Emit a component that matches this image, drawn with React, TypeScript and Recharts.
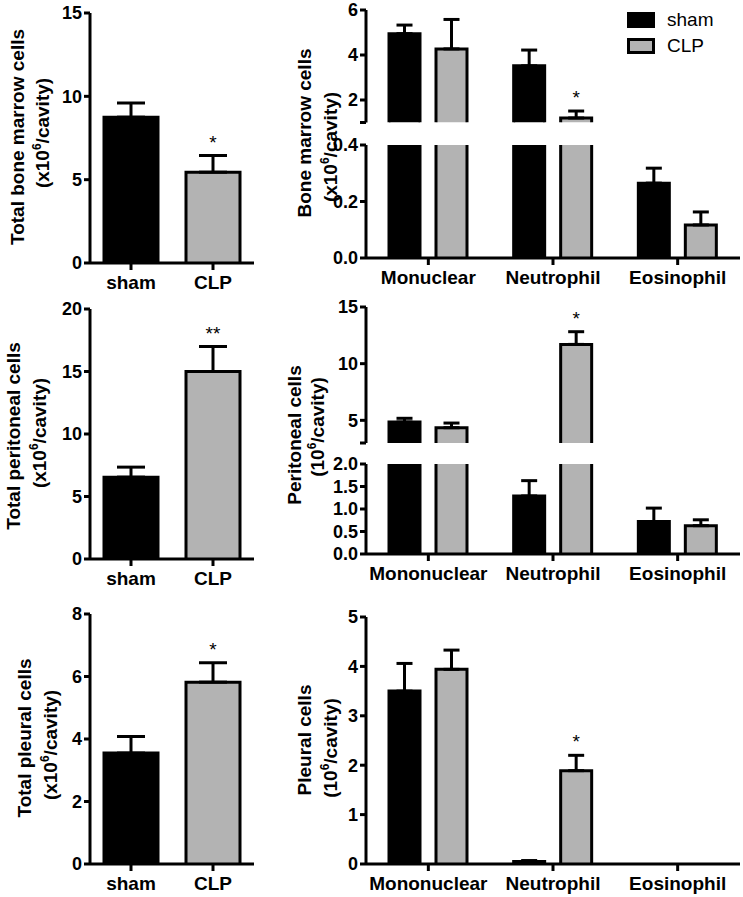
import React from 'react';
import { BarChart, Bar, XAxis, YAxis, ErrorBar, Cell, Legend } from 'recharts';

const FONT = 'Arial, "Liberation Sans", Helvetica, sans-serif';
const BLACK = '#000000';
const GREY = '#b3b3b3';

// groups
const groups = ['sham', 'CLP'];
const groupColors = [BLACK, GREY];

// cell types (the bone marrow panel spells it "Monuclear")
const cellTypesBM = ['Monuclear', 'Neutrophil', 'Eosinophil'];
const cellTypes = ['Mononuclear', 'Neutrophil', 'Eosinophil'];

// total cells, x10^6/cavity
const totalBM = [8.75, 5.45];
const totalBMErr = [0.85, 1.0];
const totalBMSig = ['', '*'];

const totalPer = [6.55, 15.0];
const totalPerErr = [0.8, 2.0];
const totalPerSig = ['', '**'];

const totalPle = [3.55, 5.82];
const totalPleErr = [0.53, 0.62];
const totalPleSig = ['', '*'];

// bone marrow cells by type
const bmSham = [4.95, 3.52, 0.265];
const bmShamErr = [0.38, 0.7, 0.053];
const bmClp = [4.27, 1.2, 0.117];
const bmClpErr = [1.31, 0.31, 0.046];
const bmSig = ['', '*', ''];

// peritoneal cells by type
const perSham = [4.85, 1.29, 0.72];
const perShamErr = [0.33, 0.34, 0.3];
const perClp = [4.35, 11.7, 0.63];
const perClpErr = [0.41, 1.12, 0.13];
const perSig = ['', '*', ''];

// pleural cells by type
const pleSham = [3.5, 0.05, 0];
const pleShamErr = [0.56, 0.02, 0];
const pleClp = [3.94, 1.89, 0];
const pleClpErr = [0.39, 0.31, 0];
const pleSig = ['', '*', ''];

const axisTick = { fill: BLACK, fontSize: 18, fontWeight: 700, fontFamily: FONT };
const catTick = { fill: BLACK, fontSize: 19, fontWeight: 700, fontFamily: FONT };
const axisStroke = { stroke: BLACK, strokeWidth: 3 };

// bar with outline on top and sides only, cut where it leaves the plot area
const CutBar = (props: any) => {
  const { x, width, fill, background } = props;
  let y = Number(props.y);
  let h = Number(props.height);
  if (!width || !isFinite(y) || !isFinite(h)) return null;
  if (h < 0) {
    y += h;
    h = -h;
  }
  let top = y;
  let bottom = y + h;
  let cutTop = false;
  if (background && isFinite(background.y)) {
    const bTop = background.y;
    const bBottom = background.y + background.height;
    if (top < bTop) {
      top = bTop;
      cutTop = true;
    }
    if (bottom > bBottom) bottom = bBottom;
  }
  if (bottom - top <= 0.01) return null;
  const l = x;
  const r = x + width;
  const d = cutTop
    ? `M${l},${bottom}V${top}M${r},${top}V${bottom}`
    : `M${l},${bottom}V${top}H${r}V${bottom}`;
  return (
    <g>
      <rect x={l} y={top} width={width} height={bottom - top} fill={fill} />
      <path d={d} fill="none" stroke={BLACK} strokeWidth={3} />
    </g>
  );
};

const starLabel = (marks: string[], values: number[], errs: number[], base: number) => (props: any) => {
  const vb = props.viewBox ?? props;
  const i = typeof props.index === 'number' ? props.index : values.indexOf(Number(props.value));
  const mark = marks[i];
  if (!mark || vb == null) return null;
  const h = Math.abs(Number(vb.height));
  const yTop = Math.min(Number(vb.y), Number(vb.y) + Number(vb.height));
  const perUnit = h / (values[i] - base);
  const errTop = yTop - errs[i] * perUnit;
  return (
    <text x={vb.x + vb.width / 2} y={errTop - 7} textAnchor="middle" fontFamily={FONT} fontSize={19} fill={BLACK}>
      {mark}
    </text>
  );
};

const unitLine = (pre: string) => (
  <>
    {pre}
    <tspan fontSize={12} dy={-8}>6</tspan>
    <tspan dy={8}>/cavity)</tspan>
  </>
);

const AxisTitle = ({ lines, xs, ys }: { lines: React.ReactNode[]; xs: number[]; ys: number[] }) => (
  <g>
    {lines.map((l, i) => (
      <text
        key={i}
        transform={`translate(${xs[i]},${ys[i]}) rotate(-90)`}
        textAnchor="middle"
        fontFamily={FONT}
        fontWeight={700}
        fontSize={19}
        fill={BLACK}
      >
        {l}
      </text>
    ))}
  </g>
);

const LegendBox = (props: any) => {
  const items = (props.payload && props.payload.length ? [...props.payload] : groups.map((g, i) => ({ value: g, color: groupColors[i] })))
    .sort((a: any, b: any) => groups.indexOf(a.value) - groups.indexOf(b.value));
  return (
    <div style={{ fontFamily: FONT, fontSize: 19, color: BLACK }}>
      {items.map((e: any) => {
        const gi = groups.indexOf(e.value);
        return (
          <div key={e.value} style={{ display: 'flex', alignItems: 'center', height: 26 }}>
            <span
              style={{
                display: 'inline-block',
                boxSizing: 'border-box',
                width: 28,
                height: 16,
                background: gi >= 0 ? groupColors[gi] : e.color,
                border: '3px solid #000',
                marginRight: 12,
              }}
            />
            <span>{e.value}</span>
          </div>
        );
      })}
    </div>
  );
};

type TotalProps = {
  top: number;
  height: number;
  mTop: number;
  mBottom: number;
  values: number[];
  errs: number[];
  sig: string[];
  ticks: number[];
  title: string;
  tx: number[];
  ty: number[];
};

const TotalPanel = ({ top, height, mTop, mBottom, values, errs, sig, ticks, title, tx, ty }: TotalProps) => {
  const data = groups.map((g, i) => ({ group: g, count: values[i], err: [0, errs[i]] }));
  return (
    <div style={{ position: 'absolute', left: 0, top }}>
      <BarChart width={262} height={height} data={data} margin={{ top: mTop, right: 8, bottom: mBottom, left: 0 }}>
        <XAxis dataKey="group" height={30} tick={catTick} tickSize={7} tickMargin={6} axisLine={axisStroke} tickLine={axisStroke} />
        <YAxis
          width={90}
          domain={[ticks[0], ticks[ticks.length - 1]]}
          ticks={ticks}
          interval={0}
          tick={axisTick}
          tickSize={6}
          tickMargin={2}
          axisLine={axisStroke}
          tickLine={axisStroke}
          label={<AxisTitle lines={[title, unitLine('(x10')]} xs={tx} ys={ty.map((v) => v - top)} />}
        />
        <Bar
          dataKey="count"
          barSize={54}
          shape={(p: any) => <CutBar {...p} />}
          isAnimationActive={false}
          label={starLabel(sig, values, errs, 0)}
        >
          {data.map((d, i) => (
            <Cell key={d.group} fill={groupColors[i]} />
          ))}
          <ErrorBar dataKey="err" width={14} stroke={BLACK} strokeWidth={3} direction="y" />
        </Bar>
      </BarChart>
    </div>
  );
};

type Segment = { domain: number[]; ticks: number[]; mTop: number; mBottom: number; height: number; hideFirst?: boolean; decimals?: number };

type TypeProps = {
  top: number;
  height: number;
  categories: string[];
  sham: number[];
  shamErr: number[];
  clp: number[];
  clpErr: number[];
  sig: string[];
  title: React.ReactNode[];
  tx: number[];
  ty: number[];
  lower: Segment;
  upper?: Segment;
  legend?: boolean;
};

const LEFT = 270;

// an error bar is only drawn in the axis segment that holds its bar
const segErr = (v: number, e: number, seg: Segment) =>
  e > 0 && v >= seg.domain[0] && v <= seg.domain[1] ? [0, e] : null;

const TypePanel = ({ top, height, categories, sham, shamErr, clp, clpErr, sig, title, tx, ty, lower, upper, legend }: TypeProps) => {
  const makeData = (seg: Segment) =>
    categories.map((c, i) => ({
      cell: c,
      sham: sham[i],
      shamErr: segErr(sham[i], shamErr[i], seg),
      CLP: clp[i],
      clpErr: segErr(clp[i], clpErr[i], seg),
    }));
  const fmt = (seg: Segment) => (v: number) =>
    seg.hideFirst && v === seg.ticks[0] ? '' : seg.decimals ? v.toFixed(seg.decimals) : String(v);

  const bars = (withStars: boolean, base: number) => [
    <Bar key="sham" dataKey="sham" name="sham" fill={BLACK} barSize={31} shape={(p: any) => <CutBar {...p} />} isAnimationActive={false}>
      <ErrorBar dataKey="shamErr" width={8} stroke={BLACK} strokeWidth={3} direction="y" />
    </Bar>,
    <Bar
      key="clp"
      dataKey="CLP"
      name="CLP"
      fill={GREY}
      barSize={31}
      shape={(p: any) => <CutBar {...p} />}
      isAnimationActive={false}
      label={withStars ? starLabel(sig, clp, clpErr, base) : undefined}
    >
      <ErrorBar dataKey="clpErr" width={8} stroke={BLACK} strokeWidth={3} direction="y" />
    </Bar>,
  ];

  return (
    <>
      <div style={{ position: 'absolute', left: LEFT, top }}>
        <BarChart width={473} height={height} data={makeData(lower)} barGap={16} margin={{ top: lower.mTop, right: 3, bottom: lower.mBottom, left: 0 }}>
          <XAxis dataKey="cell" height={30} tick={catTick} tickSize={7} tickMargin={6} axisLine={axisStroke} tickLine={axisStroke} />
          <YAxis
            width={96}
            domain={lower.domain}
            ticks={lower.ticks}
            interval={0}
            allowDataOverflow
            tickFormatter={fmt(lower)}
            tick={axisTick}
            tickSize={6}
            tickMargin={2}
            axisLine={axisStroke}
            tickLine={axisStroke}
            label={<AxisTitle lines={title} xs={tx.map((v) => v - LEFT)} ys={ty.map((v) => v - top)} />}
          />
          {legend && (
            <Legend layout="vertical" align="center" verticalAlign="middle" content={LegendBox} wrapperStyle={{ left: 627 - LEFT, top: 7, width: 120 }} />
          )}
          {bars(!upper, 0)}
        </BarChart>
      </div>
      {upper && (
        <div style={{ position: 'absolute', left: LEFT, top }}>
          <BarChart width={473} height={upper.height} data={makeData(upper)} barGap={16} margin={{ top: upper.mTop, right: 3, bottom: upper.mBottom, left: 0 }}>
            <XAxis dataKey="cell" hide />
            <YAxis
              width={96}
              domain={upper.domain}
              ticks={upper.ticks}
              interval={0}
              allowDataOverflow
              tickFormatter={fmt(upper)}
              tick={axisTick}
              tickSize={6}
              tickMargin={2}
              axisLine={axisStroke}
              tickLine={axisStroke}
            />
            {bars(true, upper.domain[0])}
          </BarChart>
        </div>
      )}
    </>
  );
};

export default function App() {
  return (
    <div style={{ position: 'absolute', left: 0, top: 0, width: 743, height: 897, background: '#fff', overflow: 'hidden' }}>
      <TotalPanel
        top={0}
        height={300}
        mTop={13}
        mBottom={7}
        values={totalBM}
        errs={totalBMErr}
        sig={totalBMSig}
        ticks={[0, 5, 10, 15]}
        title="Total bone marrow cells"
        tx={[24, 49]}
        ty={[137, 133]}
      />
      <TotalPanel
        top={296}
        height={300}
        mTop={13}
        mBottom={7}
        values={totalPer}
        errs={totalPerErr}
        sig={totalPerSig}
        ticks={[0, 5, 10, 15, 20]}
        title="Total peritoneal cells"
        tx={[20, 46]}
        ty={[436, 433]}
      />
      <TotalPanel
        top={601}
        height={296}
        mTop={13}
        mBottom={3}
        values={totalPle}
        errs={totalPleErr}
        sig={totalPleSig}
        ticks={[0, 2, 4, 6, 8]}
        title="Total pleural cells"
        tx={[31, 57]}
        ty={[738, 745]}
      />
      <TypePanel
        top={0}
        height={300}
        categories={cellTypesBM}
        sham={bmSham}
        shamErr={bmShamErr}
        clp={bmClp}
        clpErr={bmClpErr}
        sig={bmSig}
        title={['Bone marrow  cells', unitLine('(x10')]}
        tx={[311, 337]}
        ty={[133, 147]}
        lower={{ domain: [0, 0.4], ticks: [0, 0.2, 0.4], mTop: 145, mBottom: 12, height: 300, decimals: 1 }}
        upper={{ domain: [1, 6], ticks: [1, 2, 4, 6], mTop: 10, mBottom: 3.5, height: 126, hideFirst: true }}
        legend
      />
      <TypePanel
        top={296}
        height={300}
        categories={cellTypes}
        sham={perSham}
        shamErr={perShamErr}
        clp={perClp}
        clpErr={perClpErr}
        sig={perSig}
        title={['Peritoneal cells', unitLine('(10')]}
        tx={[301, 324]}
        ty={[435, 427]}
        lower={{ domain: [0, 2], ticks: [0, 0.5, 1, 1.5, 2], mTop: 168, mBottom: 12, height: 300, decimals: 1 }}
        upper={{ domain: [3, 15], ticks: [3, 5, 10, 15], mTop: 11, mBottom: 3, height: 150, hideFirst: true }}
      />
      <TypePanel
        top={601}
        height={296}
        categories={cellTypes}
        sham={pleSham}
        shamErr={pleShamErr}
        clp={pleClp}
        clpErr={pleClpErr}
        sig={pleSig}
        title={['Pleural cells', unitLine('(10')]}
        tx={[311, 337]}
        ty={[740, 748]}
        lower={{ domain: [0, 5], ticks: [0, 1, 2, 3, 4, 5], mTop: 16, mBottom: 3, height: 296 }}
      />
    </div>
  );
}
